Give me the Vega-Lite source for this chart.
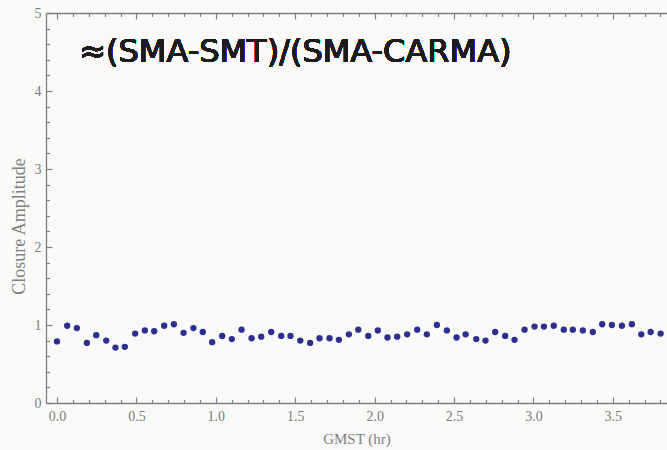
{
  "$schema": "https://vega.github.io/schema/vega-lite/v6.json",
  "width": 621,
  "height": 390,
  "autosize": {"type": "none"},
  "padding": {"left": 46, "top": 13, "right": 0, "bottom": 47},
  "background": "#f9faf7",
  "config": {
    "view": {"stroke": null},
    "axis": {
      "domainColor": "#7f7f7f",
      "domainWidth": 1.3,
      "tickColor": "#7f7f7f",
      "tickWidth": 1.2,
      "labelColor": "#7a7a7a",
      "titleColor": "#808080",
      "labelFont": "Liberation Serif",
      "titleFont": "Liberation Serif",
      "labelFontSize": 14,
      "titleFontSize": 15,
      "titleFontWeight": "normal",
      "grid": false
    }
  },
  "data": {
    "values": [
      {"t": 0.0, "ca": 0.79}, {"t": 0.064, "ca": 0.99}, {"t": 0.125, "ca": 0.96}, {"t": 0.188, "ca": 0.77},
      {"t": 0.247, "ca": 0.87}, {"t": 0.31, "ca": 0.8}, {"t": 0.368, "ca": 0.71}, {"t": 0.427, "ca": 0.72},
      {"t": 0.492, "ca": 0.89}, {"t": 0.553, "ca": 0.93}, {"t": 0.612, "ca": 0.92}, {"t": 0.675, "ca": 0.99},
      {"t": 0.736, "ca": 1.01}, {"t": 0.797, "ca": 0.9}, {"t": 0.859, "ca": 0.96}, {"t": 0.918, "ca": 0.91},
      {"t": 0.977, "ca": 0.78}, {"t": 1.04, "ca": 0.86}, {"t": 1.101, "ca": 0.82}, {"t": 1.162, "ca": 0.94},
      {"t": 1.225, "ca": 0.83}, {"t": 1.286, "ca": 0.85}, {"t": 1.349, "ca": 0.91}, {"t": 1.412, "ca": 0.86},
      {"t": 1.47, "ca": 0.86}, {"t": 1.532, "ca": 0.8}, {"t": 1.594, "ca": 0.77}, {"t": 1.653, "ca": 0.83},
      {"t": 1.716, "ca": 0.83}, {"t": 1.775, "ca": 0.81}, {"t": 1.838, "ca": 0.88}, {"t": 1.897, "ca": 0.94},
      {"t": 1.96, "ca": 0.86}, {"t": 2.02, "ca": 0.93}, {"t": 2.081, "ca": 0.84}, {"t": 2.142, "ca": 0.85},
      {"t": 2.205, "ca": 0.88}, {"t": 2.268, "ca": 0.94}, {"t": 2.329, "ca": 0.88}, {"t": 2.392, "ca": 1.0},
      {"t": 2.455, "ca": 0.93}, {"t": 2.516, "ca": 0.84}, {"t": 2.573, "ca": 0.88}, {"t": 2.64, "ca": 0.82},
      {"t": 2.698, "ca": 0.8}, {"t": 2.759, "ca": 0.91}, {"t": 2.822, "ca": 0.86}, {"t": 2.881, "ca": 0.81},
      {"t": 2.944, "ca": 0.94}, {"t": 3.007, "ca": 0.98}, {"t": 3.066, "ca": 0.98}, {"t": 3.128, "ca": 0.99},
      {"t": 3.191, "ca": 0.94}, {"t": 3.248, "ca": 0.94}, {"t": 3.311, "ca": 0.93}, {"t": 3.374, "ca": 0.91},
      {"t": 3.433, "ca": 1.01}, {"t": 3.494, "ca": 1.0}, {"t": 3.557, "ca": 0.99}, {"t": 3.62, "ca": 1.01},
      {"t": 3.679, "ca": 0.88}, {"t": 3.738, "ca": 0.91}, {"t": 3.801, "ca": 0.89}
    ]
  },
  "resolve": {"axis": {"x": "independent", "y": "independent"}},
  "layer": [
    {
      "mark": {"type": "point", "filled": true, "shape": "circle", "size": 40, "color": "#2c2f8e", "opacity": 1},
      "encoding": {
        "x": {"field": "t", "type": "quantitative", "scale": {"domain": [-0.0693, 3.841], "nice": false, "zero": false},
          "axis": {"orient": "bottom", "title": "GMST (hr)", "values": [0, 0.5, 1, 1.5, 2, 2.5, 3, 3.5], "format": ".1f", "tickSize": -6, "labelPadding": 12, "titlePadding": 8}},
        "y": {"field": "ca", "type": "quantitative", "scale": {"domain": [0, 5], "nice": false},
          "axis": {"orient": "left", "title": "Closure Amplitude", "titleFontSize": 18, "titleY": 213, "values": [0, 1, 2, 3, 4, 5], "format": "d", "tickSize": -6, "labelPadding": 11, "titlePadding": 6}}
      }
    },
    {
      "mark": {"type": "point", "opacity": 0},
      "encoding": {
        "x": {"field": "t", "type": "quantitative",
          "axis": {"orient": "bottom", "title": null, "labels": false, "domain": false, "tickSize": -3.5,
            "values": [0.1, 0.2, 0.3, 0.4, 0.6, 0.7, 0.8, 0.9, 1.1, 1.2, 1.3, 1.4, 1.6, 1.7, 1.8, 1.9, 2.1, 2.2, 2.3, 2.4, 2.6, 2.7, 2.8, 2.9, 3.1, 3.2, 3.3, 3.4, 3.6, 3.7, 3.8]}},
        "y": {"field": "ca", "type": "quantitative",
          "axis": {"orient": "left", "title": null, "labels": false, "domain": false, "tickSize": -3.5,
            "values": [0.2, 0.4, 0.6, 0.8, 1.2, 1.4, 1.6, 1.8, 2.2, 2.4, 2.6, 2.8, 3.2, 3.4, 3.6, 3.8, 4.2, 4.4, 4.6, 4.8]}}
      }
    },
    {
      "mark": {"type": "point", "opacity": 0},
      "encoding": {
        "x": {"field": "t", "type": "quantitative",
          "axis": {"orient": "top", "title": null, "labels": false, "tickSize": -6, "values": [0, 0.5, 1, 1.5, 2, 2.5, 3, 3.5]}},
        "y": {"field": "ca", "type": "quantitative", "axis": null}
      }
    },
    {
      "mark": {"type": "point", "opacity": 0},
      "encoding": {
        "x": {"field": "t", "type": "quantitative",
          "axis": {"orient": "top", "title": null, "labels": false, "domain": false, "tickSize": -3.5,
            "values": [0.1, 0.2, 0.3, 0.4, 0.6, 0.7, 0.8, 0.9, 1.1, 1.2, 1.3, 1.4, 1.6, 1.7, 1.8, 1.9, 2.1, 2.2, 2.3, 2.4, 2.6, 2.7, 2.8, 2.9, 3.1, 3.2, 3.3, 3.4, 3.6, 3.7, 3.8]}},
        "y": {"field": "ca", "type": "quantitative", "axis": null}
      }
    },
    {
      "mark": {"type": "text", "text": "≈(SMA-SMT)/(SMA-CARMA)", "font": "DejaVu Sans", "fontSize": 32, "align": "left", "baseline": "middle", "color": "#1c1c1c"},
      "encoding": {
        "x": {"datum": 0.14, "type": "quantitative", "axis": null},
        "y": {"datum": 4.5, "type": "quantitative", "axis": null}
      }
    }
  ]
}
